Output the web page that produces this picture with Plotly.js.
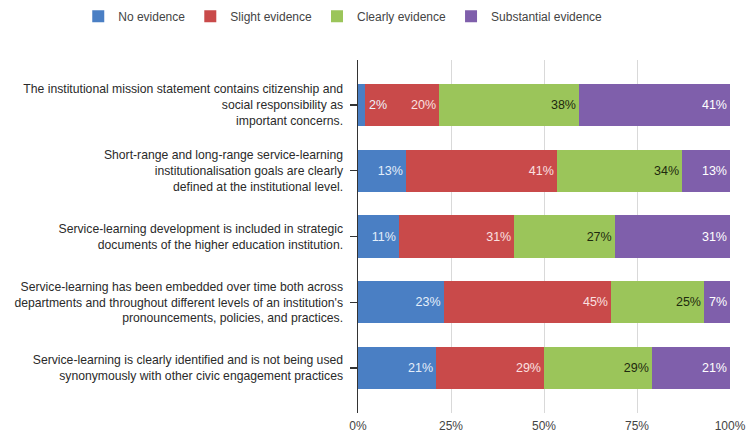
<!DOCTYPE html>
<html>
<head>
<meta charset="utf-8">
<script src="https://cdn.plot.ly/plotly-3.0.1.min.js"></script>
<style>html,body{margin:0;padding:0;background:#fff;}#chart{width:747px;height:433px;}</style>
</head>
<body>
<div id="chart"></div>
<script>
const categories = [
  "The institutional mission statement contains citizenship and<br>social responsibility as<br>important concerns.",
  "Short-range and long-range service-learning<br>institutionalisation goals are clearly<br>defined at the institutional level.",
  "Service-learning development is included in strategic<br>documents of the higher education institution.",
  "Service-learning has been embedded over time both across<br>departments and throughout different levels of an institution's<br>pronouncements, policies, and practices.",
  "Service-learning is clearly identified and is not being used<br>synonymously with other civic engagement practices"
];
const seriesNames = ["No evidence", "Slight evidence", "Clearly evidence", "Substantial evidence"];
const noEvidence = [2, 13, 11, 23, 21];
const slightEvidence = [20, 41, 31, 45, 29];
const clearlyEvidence = [38, 34, 27, 25, 29];
const substantialEvidence = [41, 13, 31, 7, 21];
const xTickVals = [0, 25, 50, 75, 100];
const xTickText = ["0%", "25%", "50%", "75%", "100%"];

const seriesValues = [noEvidence, slightEvidence, clearlyEvidence, substantialEvidence];
const colors = ["#4a7fc4", "#c94a4a", "#9bc55a", "#7f5fab"];
const textColors = ["#e4eefa", "#fbe0e0", "#1e2a0e", "#ffffff"];
const FONT = "Liberation Sans, Arial, sans-serif";

// labels too narrow to fit inside their bar are drawn just past the bar end
const MIN_FIT = 5;
const rowTotals = categories.map((_, r) => seriesValues.reduce((s, arr) => s + arr[r], 0));

const data = seriesValues.map((vals, i) => ({
  type: "bar",
  orientation: "h",
  name: seriesNames[i],
  y: categories,
  x: vals,
  text: vals.map(v => v < MIN_FIT ? "" : v + "%"),
  textposition: "inside",
  insidetextanchor: "end",
  textfont: {family: FONT, size: 12.5, color: textColors[i]},
  marker: {color: colors[i], line: {width: 0}},
  hoverinfo: "skip"
}));

const annotations = [];
noEvidence.forEach((v, r) => {
  if (v < MIN_FIT) {
    annotations.push({
      x: v / rowTotals[r] * 100, y: categories[r], xref: "x", yref: "y",
      text: v + "%", showarrow: false, xanchor: "left", xshift: 2,
      font: {family: FONT, size: 12.5, color: "#eef3fb"}
    });
  }
});

const layout = {
  width: 747, height: 433,
  margin: {l: 358, r: 17, t: 60, b: 20, autoexpand: false},
  barmode: "stack",
  barnorm: "percent",
  bargap: 0.36,
  paper_bgcolor: "#fff",
  plot_bgcolor: "#fff",
  font: {family: FONT, size: 12.2, color: "#333"},
  showlegend: true,
  annotations: annotations,
  legend: {
    orientation: "h",
    xref: "paper", x: -0.752, xanchor: "left",
    yref: "paper", y: 1.165, yanchor: "top",
    font: {family: FONT, size: 12, color: "#444"},
    traceorder: "normal"
  },
  xaxis: {
    range: [0, 100],
    tickvals: xTickVals,
    ticktext: xTickText,
    showgrid: true,
    gridcolor: "#d9d9d9",
    gridwidth: 1,
    zeroline: false,
    showline: false,
    ticks: "",
    ticklabelstandoff: 4,
    tickfont: {family: FONT, size: 12, color: "#444"},
    fixedrange: true
  },
  yaxis: {
    type: "category",
    categoryorder: "array",
    categoryarray: categories,
    range: [4.684, -0.684],
    showline: true,
    linecolor: "#333",
    linewidth: 1.5,
    ticks: "outside",
    ticklen: 7,
    tickcolor: "#333",
    tickwidth: 1.5,
    ticklabelstandoff: 4,
    showgrid: false,
    tickfont: {family: FONT, size: 12.2, color: "#2a2a2a"},
    fixedrange: true
  }
};

Plotly.newPlot("chart", data, layout, {displayModeBar: false, staticPlot: true});
</script>
</body>
</html>
